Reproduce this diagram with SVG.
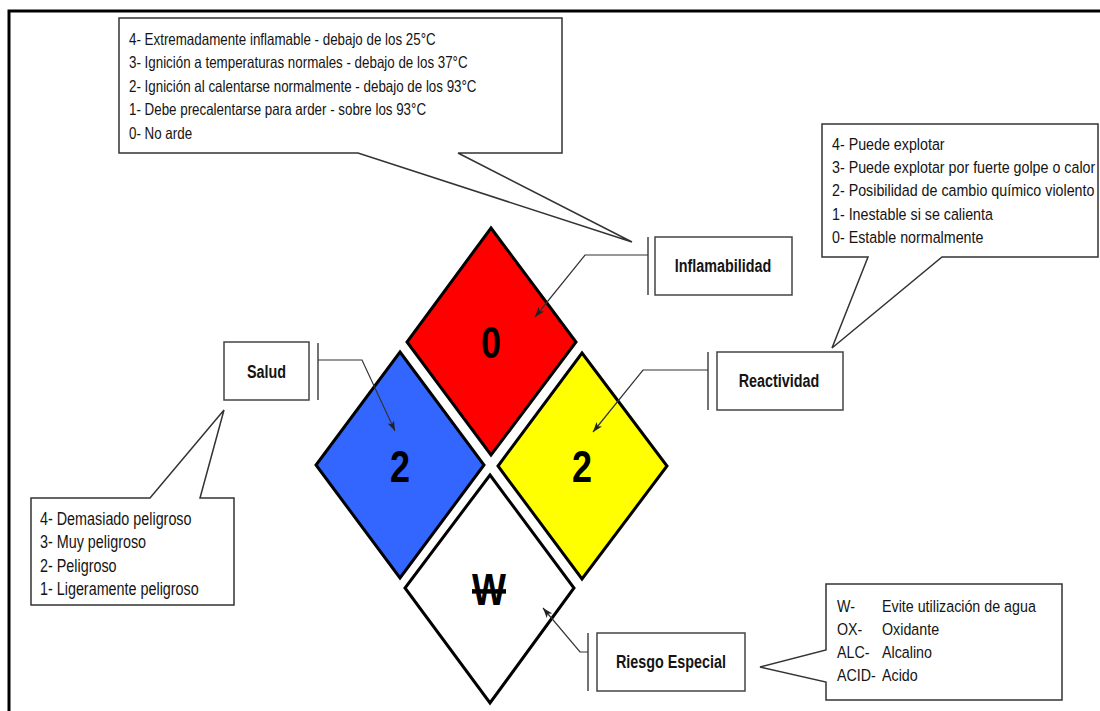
<svg xmlns="http://www.w3.org/2000/svg" width="1100" height="711" viewBox="0 0 1100 711">
<style>
text{font-family:"Liberation Sans",Arial,sans-serif;fill:#141414}
.co{fill:#fff;stroke:#333;stroke-width:1.5;stroke-linejoin:miter}
.box{fill:#fff;stroke:#444;stroke-width:1.5}
.bar{stroke:#444;stroke-width:1.5;fill:none}
.dia{stroke:#000;stroke-width:3;stroke-linejoin:miter}
.num{font-size:45px;font-weight:bold;text-anchor:middle;fill:#000}
.lbl{font-size:17.5px;font-weight:bold;text-anchor:middle}
.conn{fill:none;stroke:#333;stroke-width:1.2}
</style>
<defs>
<marker id="arr" viewBox="0 0 10 8" refX="10" refY="4" markerWidth="10" markerHeight="8" markerUnits="userSpaceOnUse" orient="auto">
<path d="M0,0.5 L10,4 L0,7.5 L2.5,4 Z" fill="#222"/>
</marker>
</defs>
<rect width="1100" height="711" fill="#fff"/>
<path d="M9,711 V11 H1100" fill="none" stroke="#000" stroke-width="3"/>

<g id="callout-inflamabilidad">
<path class="co" d="M119,18 H562 V153 H458 L632,242 L358,153 H119 Z"/>
<text style="font-size:16.3px" transform="translate(129,0) scale(0.82,1)">
<tspan x="0" y="45">4- Extremadamente inflamable - debajo de los 25°C</tspan>
<tspan x="0" y="68.5">3- Ignición a temperaturas normales - debajo de los 37°C</tspan>
<tspan x="0" y="92">2- Ignición al calentarse normalmente - debajo de los 93°C</tspan>
<tspan x="0" y="115.5">1- Debe precalentarse para arder - sobre los 93°C</tspan>
<tspan x="0" y="139">0- No arde</tspan>
</text>
</g>

<g id="callout-reactividad">
<path class="co" d="M822,124 H1098 V257 H942 L832,348 L868,257 H822 Z"/>
<text style="font-size:17.4px" transform="translate(832,0) scale(0.82,1)">
<tspan x="0" y="150">4- Puede explotar</tspan>
<tspan x="0" y="173">3- Puede explotar por fuerte golpe o calor</tspan>
<tspan x="0" y="196.5">2- Posibilidad de cambio químico violento</tspan>
<tspan x="0" y="220">1- Inestable si se calienta</tspan>
<tspan x="0" y="243.5">0- Estable normalmente</tspan>
</text>
</g>

<g id="callout-salud">
<path class="co" d="M31,498 H150 L224,410 L200,498 H234 V605 H31 Z"/>
<text style="font-size:17.5px" transform="translate(40,0) scale(0.82,1)">
<tspan x="0" y="525">4- Demasiado peligroso</tspan>
<tspan x="0" y="548">3- Muy peligroso</tspan>
<tspan x="0" y="572">2- Peligroso</tspan>
<tspan x="0" y="595">1- Ligeramente peligroso</tspan>
</text>
</g>

<g id="callout-riesgo">
<path class="co" d="M826,584 H1062 V700 H826 V682 L760,667 L826,650 Z"/>
<text style="font-size:17.4px" transform="translate(837,0) scale(0.82,1)">
<tspan x="0" y="612">W-</tspan>
<tspan x="0" y="635">OX-</tspan>
<tspan x="0" y="658">ALC-</tspan>
<tspan x="0" y="681">ACID-</tspan>
</text>
<text style="font-size:17.4px" transform="translate(882,0) scale(0.82,1)">
<tspan x="0" y="612">Evite utilización de agua</tspan>
<tspan x="0" y="635">Oxidante</tspan>
<tspan x="0" y="658">Alcalino</tspan>
<tspan x="0" y="681">Acido</tspan>
</text>
</g>

<g id="diamond-red">
<polygon class="dia" fill="#ff0000" points="491,228 576,342 491,455 407,342"/>
<text class="num" transform="translate(491,358) scale(0.8,1)">0</text>
</g>
<g id="diamond-blue">
<polygon class="dia" fill="#3366ff" points="400,352 484,465 400,578 316,465"/>
<text class="num" transform="translate(400,482) scale(0.8,1)">2</text>
</g>
<g id="diamond-yellow">
<polygon class="dia" fill="#ffff00" points="582,353 667,466 582,579 498,466"/>
<text class="num" transform="translate(582,482) scale(0.8,1)">2</text>
</g>
<g id="diamond-white">
<polygon class="dia" fill="#fff" points="490,475 574,588 490,703 405,588"/>
<text class="num" transform="translate(489,605) scale(0.8,1)" text-decoration="line-through">W</text>
</g>

<g id="node-inflamabilidad">
<rect class="box" x="655" y="237" width="137" height="58"/>
<text class="lbl" transform="translate(723,272) scale(0.82,1)">Inflamabilidad</text>
</g>
<g id="node-salud">
<rect class="box" x="224" y="342" width="85" height="58"/>
<text class="lbl" transform="translate(266.5,378) scale(0.82,1)">Salud</text>
</g>
<g id="node-reactividad">
<rect class="box" x="717" y="352" width="126" height="58"/>
<text class="lbl" transform="translate(779,387) scale(0.82,1)">Reactividad</text>
</g>
<g id="node-riesgo">
<rect class="box" x="597" y="633" width="148" height="58"/>
<text class="lbl" transform="translate(671,668) scale(0.82,1)">Riesgo Especial</text>
</g>

<g id="connectors">
<path class="bar" d="M648,237 V295 M318,343 V400 M708,352 V410 M588,633 V691"/>
<path class="conn" marker-end="url(#arr)" d="M648,255 H585 L535,317"/>
<path class="conn" marker-end="url(#arr)" d="M318,360 H362 L395,431"/>
<path class="conn" marker-end="url(#arr)" d="M708,370 H643 L593,432"/>
<path class="conn" marker-end="url(#arr)" d="M588,652 H580 L543,608"/>
</g>
</svg>
